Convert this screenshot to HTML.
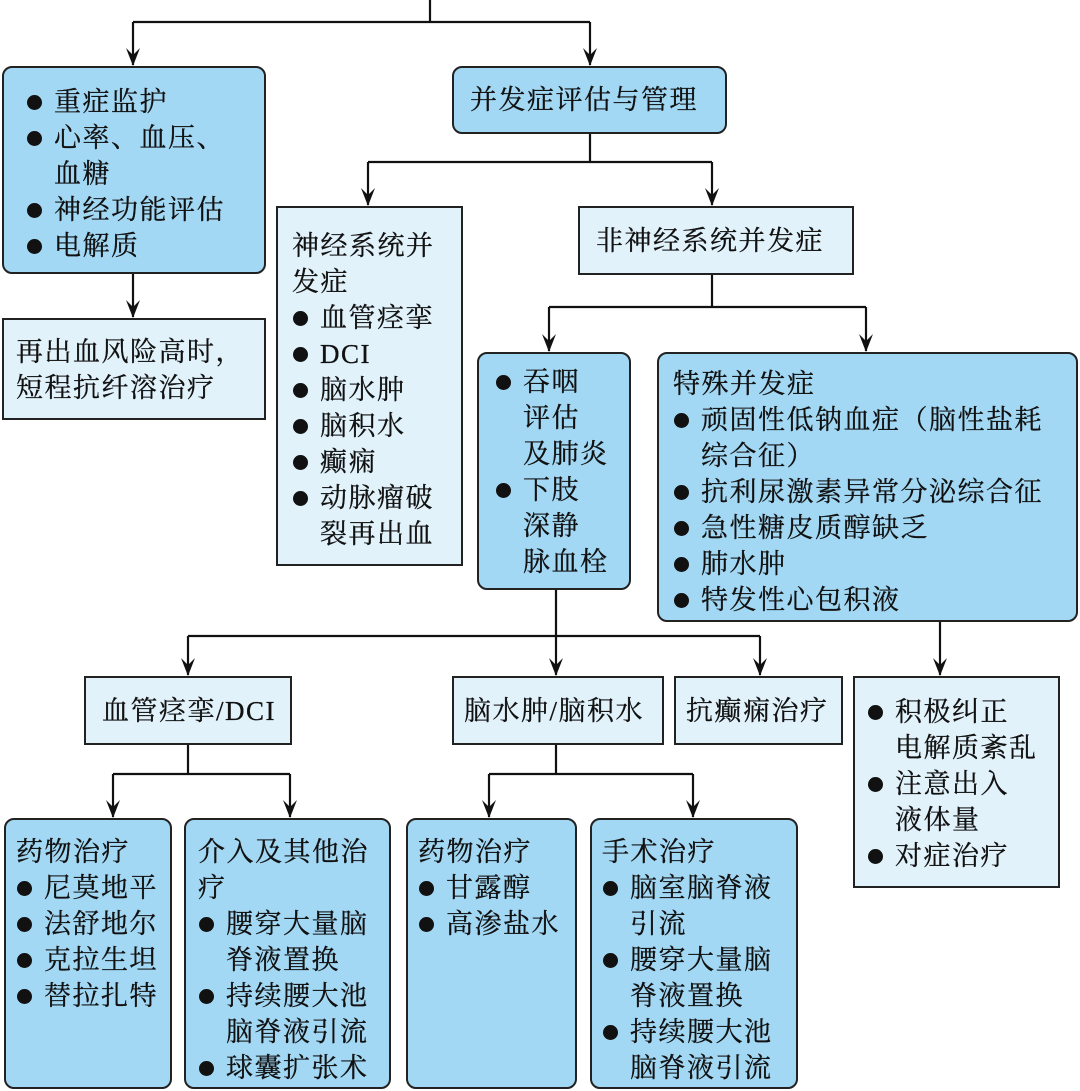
<!DOCTYPE html>
<html><head><meta charset="utf-8"><style>
body{margin:0;width:1080px;height:1091px;background:#fff;position:relative;overflow:hidden;font-family:"Liberation Serif","Noto Serif CJK SC",serif;color:#111}
.b{position:absolute;box-sizing:border-box;border:2px solid #222;font-size:27px;line-height:36px;letter-spacing:1.5px;white-space:nowrap;-webkit-text-stroke:0.3px #111}
.d{background:#a3d8f4;border-radius:10px}
.l{background:#e1f2fb}
.b div{position:relative}
.i{padding-left:28px}
.i:before{content:"";position:absolute;left:1px;top:11px;width:15px;height:15px;border-radius:50%;background:#111}
.j{padding-left:28px}
svg{position:absolute;left:0;top:0}
</style></head><body>
<svg width="1080" height="1091" viewBox="0 0 1080 1091">
<defs><marker id="a" markerWidth="14" markerHeight="18" refX="7" refY="17" orient="0" markerUnits="userSpaceOnUse" viewBox="0 0 14 18"><path d="M0,0 L7,18 L14,0 L7,7 Z" fill="#111"/></marker></defs>
<g stroke="#111" stroke-width="2.2" fill="none">
<path d="M430,0 V22 M133,22 H590"/>
<path d="M133,22 V65" marker-end="url(#a)"/><path d="M590,22 V65" marker-end="url(#a)"/>
<path d="M133,274 V317" marker-end="url(#a)"/>
<path d="M590,134 V162 M368,162 H712"/>
<path d="M368,162 V205" marker-end="url(#a)"/><path d="M712,162 V205" marker-end="url(#a)"/>
<path d="M712,275 V307 M549,307 H866"/>
<path d="M549,307 V351" marker-end="url(#a)"/><path d="M866,307 V351" marker-end="url(#a)"/>
<path d="M556,590 V636 M188,636 H760"/>
<path d="M188,636 V675" marker-end="url(#a)"/><path d="M556,636 V675" marker-end="url(#a)"/><path d="M760,636 V675" marker-end="url(#a)"/>
<path d="M940,622 V675" marker-end="url(#a)"/>
<path d="M188,745 V774 M113,774 H290"/>
<path d="M113,774 V817" marker-end="url(#a)"/><path d="M290,774 V817" marker-end="url(#a)"/>
<path d="M556,745 V774 M489,774 H693"/>
<path d="M489,774 V817" marker-end="url(#a)"/><path d="M693,774 V817" marker-end="url(#a)"/>
</g></svg>

<div class="b d" style="left:2px;top:66px;width:264px;height:208px;padding:16px 0 0 22px">
<div class="i">重症监护</div><div class="i">心率、血压、</div><div class="j">血糖</div><div class="i">神经功能评估</div><div class="i">电解质</div></div>

<div class="b l" style="left:2px;top:318px;width:264px;height:102px;padding:14px 0 0 12px">
<div>再出血风险高时，</div><div>短程抗纤溶治疗</div></div>

<div class="b d" style="left:452px;top:66px;width:275px;height:68px;padding:14px 0 0 16px">并发症评估与管理</div>

<div class="b l" style="left:276px;top:206px;width:187px;height:360px;padding:20px 0 0 14px">
<div>神经系统并</div><div>发症</div><div class="i">血管痉挛</div><div class="i">DCI</div><div class="i">脑水肿</div><div class="i">脑积水</div><div class="i">癫痫</div><div class="i">动脉瘤破</div><div class="j">裂再出血</div></div>

<div class="b l" style="left:578px;top:206px;width:276px;height:69px;padding:15px 0 0 16px">非神经系统并发症</div>

<div class="b d" style="left:477px;top:352px;width:154px;height:238px;padding:10px 0 0 16px">
<div class="i">吞咽</div><div class="j">评估</div><div class="j">及肺炎</div><div class="i">下肢</div><div class="j">深静</div><div class="j">脉血栓</div></div>

<div class="b d" style="left:657px;top:352px;width:421px;height:270px;padding:12px 0 0 14px">
<div>特殊并发症</div><div class="i">顽固性低钠血症（脑性盐耗</div><div class="j">综合征）</div><div class="i">抗利尿激素异常分泌综合征</div><div class="i">急性糖皮质醇缺乏</div><div class="i">肺水肿</div><div class="i">特发性心包积液</div></div>

<div class="b l" style="left:84px;top:676px;width:208px;height:69px;padding:15px 0 0 16px">血管痉挛/DCI</div>
<div class="b l" style="left:452px;top:676px;width:212px;height:69px;padding:15px 0 0 10px">脑水肿/脑积水</div>
<div class="b l" style="left:674px;top:676px;width:169px;height:69px;padding:15px 0 0 10px">抗癫痫治疗</div>

<div class="b l" style="left:853px;top:676px;width:207px;height:212px;padding:16px 0 0 12px">
<div class="i">积极纠正</div><div class="j">电解质紊乱</div><div class="i">注意出入</div><div class="j">液体量</div><div class="i">对症治疗</div></div>

<div class="b d" style="left:4px;top:818px;width:168px;height:271px;padding:14px 0 0 10px">
<div>药物治疗</div><div class="i">尼莫地平</div><div class="i">法舒地尔</div><div class="i">克拉生坦</div><div class="i">替拉扎特</div></div>

<div class="b d" style="left:184px;top:818px;width:207px;height:271px;padding:14px 0 0 12px">
<div>介入及其他治</div><div>疗</div><div class="i">腰穿大量脑</div><div class="j">脊液置换</div><div class="i">持续腰大池</div><div class="j">脑脊液引流</div><div class="i">球囊扩张术</div></div>

<div class="b d" style="left:406px;top:818px;width:171px;height:271px;padding:14px 0 0 10px">
<div>药物治疗</div><div class="i">甘露醇</div><div class="i">高渗盐水</div></div>

<div class="b d" style="left:590px;top:818px;width:208px;height:271px;padding:14px 0 0 10px">
<div>手术治疗</div><div class="i">脑室脑脊液</div><div class="j">引流</div><div class="i">腰穿大量脑</div><div class="j">脊液置换</div><div class="i">持续腰大池</div><div class="j">脑脊液引流</div></div>
</body></html>
